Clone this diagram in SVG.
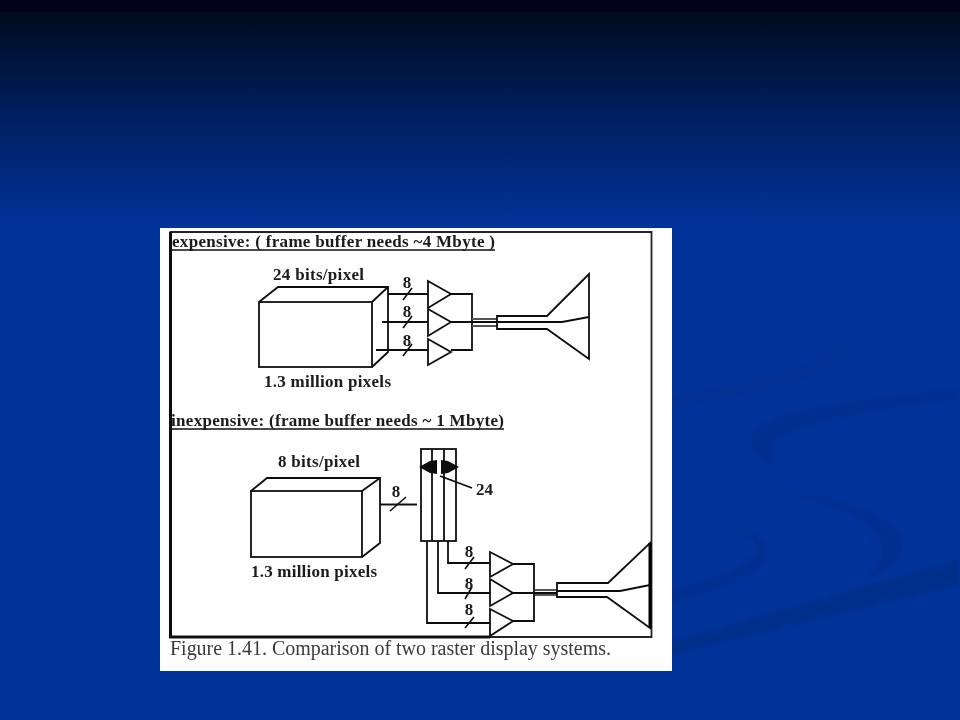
<svg xmlns="http://www.w3.org/2000/svg" width="960" height="720" viewBox="0 0 960 720">
<style>
.l{fill:none;stroke:#111;stroke-width:1.8;stroke-linejoin:miter}
.s{fill:none;stroke:#111;stroke-width:1.6}
.t{font-family:"Liberation Serif","Times New Roman",serif;font-weight:bold;font-size:17px;fill:#1a1a1a}
.c{font-family:"Liberation Serif","Times New Roman",serif;font-size:20px;fill:#3a3a3a}
.w{fill:#002e88;opacity:.6}
</style>
<defs>
<linearGradient id="bg" x1="0" y1="0" x2="0" y2="1">
<stop offset="0" stop-color="#00001a"/><stop offset=".016" stop-color="#00001c"/><stop offset=".018" stop-color="#000c1c"/>
<stop offset=".14" stop-color="#001c58"/><stop offset=".32" stop-color="#003399"/><stop offset="1" stop-color="#003399"/>
</linearGradient>
<filter id="soft" x="-2%" y="-2%" width="104%" height="104%"><feGaussianBlur stdDeviation="0.45"/></filter>
<filter id="sw" x="-5%" y="-5%" width="110%" height="110%"><feGaussianBlur stdDeviation="1"/></filter>
</defs>
<rect width="960" height="720" fill="url(#bg)"/>
<g id="swooshes" filter="url(#sw)">
<path class="w" style="opacity:.3" d="M660,400C740,382 830,375 860,325C845,375 790,388 660,410Z"/>
<path class="w" d="M960,387C880,400 760,405 750,440C748,455 770,465 785,472C770,460 765,445 785,435C810,420 900,405 960,400Z"/>
<path class="w" d="M660,503C720,515 770,530 767,555C765,575 720,590 660,605V592C720,578 755,565 757,548C755,530 715,515 660,505Z"/>
<path class="w" d="M770,490C830,495 905,515 903,548C900,565 880,575 860,580C880,570 885,555 880,540C870,515 820,500 770,490Z"/>
<path class="w" style="opacity:.85" d="M958,560V585L690,650L660,660V645Z"/>
</g>
<rect id="panel" x="160" y="228" width="512" height="443" fill="#fff"/>
<g id="figure" filter="url(#soft)">
<g id="frame">
<path d="M170.500,232H651.500V637H170.500Z" fill="none" stroke="#222" stroke-width="1.8"/>
<path d="M170.500,232V637H490" fill="none" stroke="#111" stroke-width="3"/>
<path d="M172,250H495M171,429H504" fill="none" stroke="#111" stroke-width="1.6"/>
</g>
<g id="connectors">
<path class="l" d="M388,294H428M382,322H428M376,350H428"/>
<path class="s" d="M403,300L412,288M403,328L412,316M403,356L412,344"/>
<path class="l" d="M451,294H472V350H451M451,322H497"/>
<path d="M472,319H497M472,326H497" fill="none" stroke="#555" stroke-width="2"/>
<path class="l" d="M380,504.500H417"/>
<path class="s" d="M390,511L406,497"/>
<path class="l" d="M448,541V563H490M438,541V593H490M427,541V623H490"/>
<path class="s" d="M465,569L474,557M465,599L472,587M465,628L474,617"/>
<path class="l" d="M513,564H534V621H513M513,593H557"/>
<path d="M534,590H557M534,595H557" fill="none" stroke="#222" stroke-width="1.6"/>
<path class="l" d="M440,476L472,488"/>
</g>
<g id="framebuffer-a">
<path class="l" d="M259,302L278,287H388V352L372,367M372,302L388,287"/>
<rect class="l" x="259" y="302" width="113" height="65"/>
<text class="t" x="273" y="280" textLength="91">24 bits/pixel</text>
<text class="t" x="264" y="387" textLength="127">1.3 million pixels</text>
</g>
<g id="amps-a">
<path class="l" d="M428,281L451,294L428,308ZM428,309L451,322L428,336ZM428,339L451,352L428,365Z"/>
</g>
<g id="crt-a">
<path class="l" d="M497,316H547L589,274V359L547,329H497Z"/>
<path class="l" d="M497,322H562L589,317"/>
</g>
<g id="framebuffer-b">
<path class="l" d="M251,491L267,478H380V543L362,557M362,491L380,478"/>
<rect class="l" x="251" y="491" width="111" height="66"/>
<text class="t" x="278" y="467" textLength="82">8 bits/pixel</text>
<text class="t" x="251" y="577" textLength="126">1.3 million pixels</text>
</g>
<g id="lut">
<rect class="l" x="421" y="449" width="35" height="92"/>
<path class="l" d="M432,449V541M444,449V541"/>
<path d="M419,467L430,461L437,460V474L430,473ZM459,467L448,461L441,460V474L448,473Z" fill="#111"/>
</g>
<g id="amps-b">
<path class="l" d="M490,552L513,564L490,577ZM490,579L513,593L490,606ZM490,609L513,621L490,636Z"/>
</g>
<g id="crt-b">
<path class="l" d="M557,583H608L650,543V628L607,597H557Z"/>
<path class="l" d="M557,591H620L650,585"/>
<path d="M650,543V628" stroke="#000" stroke-width="3" fill="none"/>
</g>
<g id="labels">
<text class="t" x="172" y="247" textLength="323">expensive: ( frame buffer needs ~4 Mbyte )</text>
<text class="t" x="171" y="426" textLength="333">inexpensive: (frame buffer needs ~ 1 Mbyte)</text>
<text class="t" x="407" y="287.500" text-anchor="middle">8</text>
<text class="t" x="407" y="317" text-anchor="middle">8</text>
<text class="t" x="407" y="346" text-anchor="middle">8</text>
<text class="t" x="396" y="497" text-anchor="middle">8</text>
<text class="t" x="469" y="557" text-anchor="middle">8</text>
<text class="t" x="469" y="589" text-anchor="middle">8</text>
<text class="t" x="469" y="615" text-anchor="middle">8</text>
<text class="t" x="476" y="495">24</text>
<text class="c" x="170" y="655" textLength="441">Figure 1.41. Comparison of two raster display systems.</text>
</g>
</g>
</svg>
